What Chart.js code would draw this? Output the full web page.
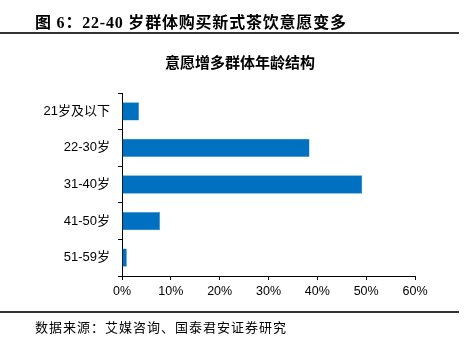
<!DOCTYPE html>
<html><head><meta charset="utf-8">
<script src="https://cdn.jsdelivr.net/npm/chart.js@4/dist/chart.umd.min.js"></script>
<style>
html,body{margin:0;padding:0;background:#fff;}
#wrap{position:relative;width:465px;height:343px;overflow:hidden;}
canvas{position:absolute;left:0;top:0;}
.t{position:absolute;white-space:nowrap;color:#000;}
#hdr{left:35px;top:9px;font:bold 16px "Liberation Serif","Noto Sans CJK SC",serif;letter-spacing:0.8px;}
#ctitle{left:0;width:480px;text-align:center;top:51px;font:bold 15px "Noto Sans CJK SC","Liberation Sans",sans-serif;}
#ftr{left:35px;top:317px;font:13px "Liberation Serif","Noto Sans CJK SC",serif;letter-spacing:1px;}
.ln{position:absolute;left:0;width:459px;height:2px;background:#333;}
</style></head>
<body><div id="wrap">
<canvas id="c" width="465" height="343"></canvas>
<div class="t" id="hdr">图 6：22-40 岁群体购买新式茶饮意愿变多</div>
<div class="ln" style="top:32px"></div>
<div class="t" id="ctitle">意愿增多群体年龄结构</div>
<div class="ln" style="top:311px"></div>
<div class="t" id="ftr">数据来源：艾媒咨询、国泰君安证券研究</div>
</div>
<script>
const categories = ["21岁及以下","22-30岁","31-40岁","41-50岁","51-59岁"];
const shares = [3.5, 38.4, 49.2, 7.8, 1.0];
const xTicks = [0,10,20,30,40,50,60];

const tickFont = {family:'"Liberation Sans","Noto Sans CJK SC",sans-serif', size:12.5};
new Chart(document.getElementById('c'), {
  type:'bar',
  data:{labels:categories, datasets:[{data:shares, backgroundColor:'#0070C0', borderColor:'#3d8fd0', borderWidth:0.5, barPercentage:0.5, categoryPercentage:1}]},
  options:{
    indexAxis:'y', responsive:false, animation:false, devicePixelRatio:1,
    layout:{padding:{left:0,right:50,top:93,bottom:37}},
    plugins:{legend:{display:false}, title:{display:false}, tooltip:{enabled:false}},
    scales:{
      x:{min:0,max:60,
        afterBuildTicks:s=>{s.ticks=xTicks.map(v=>({value:v}));},
        afterFit:s=>{s.height=30;},
        grid:{display:true,drawOnChartArea:false,drawTicks:true,tickLength:4,color:'#000'},
        border:{display:true,color:'#000',width:1},
        ticks:{color:'#000',font:tickFont,padding:4,callback:v=>v+'%'}},
      y:{
        afterFit:s=>{s.width=122;},
        grid:{display:true,drawOnChartArea:false,drawTicks:true,tickLength:4,color:'#000',offset:true},
        border:{display:true,color:'#000',width:1},
        ticks:{color:'#000',font:Object.assign({},tickFont,{size:13}),padding:8}}
    }
  }
});
</script>
</body></html>
